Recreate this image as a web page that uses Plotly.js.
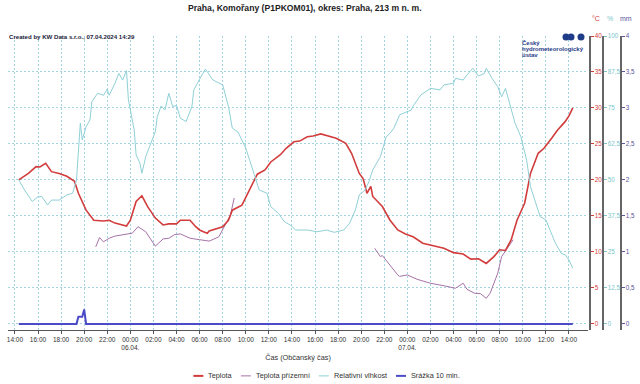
<!DOCTYPE html>
<html>
<head>
<meta charset="utf-8">
<script src="https://cdn.plot.ly/plotly-3.0.1.min.js"></script>
<style>html,body{margin:0;padding:0;background:#fff;}#chart{width:640px;height:384px;}</style>
</head>
<body>
<div id="chart"></div>
<script>
// ---- Data ----
const tempTimes = [
 '2024-04-05 14:20','2024-04-05 15:10','2024-04-05 15:50','2024-04-05 16:10','2024-04-05 16:40','2024-04-05 17:10',
 '2024-04-05 17:50','2024-04-05 18:30','2024-04-05 19:10','2024-04-05 19:30','2024-04-05 20:10','2024-04-05 20:50',
 '2024-04-05 21:40','2024-04-05 22:10','2024-04-05 22:40','2024-04-05 23:40',
 '2024-04-06 00:00','2024-04-06 00:30','2024-04-06 01:00','2024-04-06 01:30','2024-04-06 02:10','2024-04-06 02:50',
 '2024-04-06 03:20','2024-04-06 04:00','2024-04-06 04:20','2024-04-06 05:10','2024-04-06 05:40','2024-04-06 06:00',
 '2024-04-06 06:20','2024-04-06 06:40','2024-04-06 06:50','2024-04-06 07:10','2024-04-06 08:00','2024-04-06 08:30',
 '2024-04-06 08:50','2024-04-06 09:40','2024-04-06 10:20','2024-04-06 11:00','2024-04-06 11:40','2024-04-06 12:10',
 '2024-04-06 13:00','2024-04-06 13:30','2024-04-06 14:10','2024-04-06 14:40','2024-04-06 15:20','2024-04-06 15:50',
 '2024-04-06 16:30','2024-04-06 17:20','2024-04-06 17:50','2024-04-06 18:40','2024-04-06 19:10','2024-04-06 19:50',
 '2024-04-06 20:10','2024-04-06 20:30','2024-04-06 20:50','2024-04-06 21:00','2024-04-06 21:50','2024-04-06 22:30',
 '2024-04-06 23:10','2024-04-06 23:50',
 '2024-04-07 00:30','2024-04-07 01:20','2024-04-07 02:20','2024-04-07 03:10','2024-04-07 04:00','2024-04-07 04:50',
 '2024-04-07 05:30','2024-04-07 06:10','2024-04-07 06:50','2024-04-07 07:30','2024-04-07 08:00','2024-04-07 08:30',
 '2024-04-07 09:00','2024-04-07 09:30','2024-04-07 10:10','2024-04-07 10:40','2024-04-07 11:20','2024-04-07 11:50',
 '2024-04-07 12:30','2024-04-07 13:00','2024-04-07 13:40','2024-04-07 14:00','2024-04-07 14:20'
];
const tempValues = [
 20.0,20.9,21.85,21.8,22.3,21.15,
 20.9,20.5,19.8,18.15,15.8,14.4,
 14.3,14.4,14.0,13.6,
 14.4,17.0,17.8,16.3,14.7,13.75,
 13.9,13.9,14.4,14.4,13.5,13.05,
 12.8,12.6,12.9,13.05,13.5,14.4,
 15.8,16.5,18.6,20.8,21.4,22.5,
 23.5,24.4,25.3,25.4,26.0,26.1,
 26.4,26.0,25.8,25.1,23.7,20.9,
 20.2,18.15,19.1,17.7,16.3,14.4,
 13.05,12.5,
 12.1,11.2,10.8,10.5,9.9,9.7,
 9.0,9.05,8.4,9.35,10.3,10.2,
 11.7,14.4,16.8,20.9,23.7,24.4,
 25.8,26.9,28.1,28.9,30.0
];

const groundTimes = [
 '2024-04-05 21:00','2024-04-05 21:20','2024-04-05 21:40','2024-04-05 22:10','2024-04-05 22:40','2024-04-05 23:30',
 '2024-04-06 00:10','2024-04-06 00:40','2024-04-06 01:20','2024-04-06 02:10','2024-04-06 02:50','2024-04-06 03:20',
 '2024-04-06 03:50','2024-04-06 04:20','2024-04-06 05:10','2024-04-06 06:00','2024-04-06 06:50','2024-04-06 07:40',
 '2024-04-06 08:10','2024-04-06 08:40','2024-04-06 09:00','2024-04-06 15:00',
 '2024-04-06 21:10','2024-04-06 21:40','2024-04-06 21:50','2024-04-06 22:30','2024-04-06 23:10','2024-04-06 23:20',
 '2024-04-07 00:00','2024-04-07 00:50','2024-04-07 02:00','2024-04-07 03:10','2024-04-07 04:10','2024-04-07 04:50',
 '2024-04-07 05:10','2024-04-07 05:50','2024-04-07 06:20','2024-04-07 06:50','2024-04-07 07:10','2024-04-07 07:50',
 '2024-04-07 08:10','2024-04-07 08:40','2024-04-07 09:10'
];
const groundValues = [
 10.7,12.0,11.4,11.9,12.2,12.4,
 12.6,13.5,12.8,10.8,11.8,11.9,
 12.4,12.5,11.9,11.7,11.5,12.1,
 13.5,15.1,17.5,null,
 10.5,9.35,9.5,8.1,6.8,6.6,
 6.8,6.2,5.65,5.3,4.95,5.65,
 4.8,4.25,4.2,3.55,4.25,7.05,
 9.35,10.5,11.7
];

const humTimes = [
 '2024-04-05 14:20','2024-04-05 14:50','2024-04-05 15:30','2024-04-05 16:00','2024-04-05 16:20','2024-04-05 16:50',
 '2024-04-05 17:10','2024-04-05 17:50','2024-04-05 18:30','2024-04-05 19:00','2024-04-05 19:20','2024-04-05 19:30',
 '2024-04-05 19:40','2024-04-05 19:50','2024-04-05 20:10','2024-04-05 20:30','2024-04-05 20:40','2024-04-05 21:10',
 '2024-04-05 21:40','2024-04-05 22:00','2024-04-05 22:10','2024-04-05 22:40','2024-04-05 23:00','2024-04-05 23:20',
 '2024-04-05 23:40','2024-04-05 23:50',
 '2024-04-06 00:20','2024-04-06 00:30','2024-04-06 00:50','2024-04-06 01:00','2024-04-06 01:20','2024-04-06 01:40',
 '2024-04-06 02:10','2024-04-06 02:20','2024-04-06 02:40','2024-04-06 03:00','2024-04-06 03:20','2024-04-06 03:40',
 '2024-04-06 04:00','2024-04-06 04:20','2024-04-06 04:50','2024-04-06 05:20','2024-04-06 05:30','2024-04-06 06:00',
 '2024-04-06 06:30','2024-04-06 07:10','2024-04-06 07:40','2024-04-06 08:00','2024-04-06 08:30','2024-04-06 08:50',
 '2024-04-06 09:20','2024-04-06 09:40','2024-04-06 10:00','2024-04-06 10:20','2024-04-06 10:50','2024-04-06 11:10',
 '2024-04-06 11:50','2024-04-06 12:10','2024-04-06 12:50','2024-04-06 13:20','2024-04-06 13:50','2024-04-06 14:20',
 '2024-04-06 15:20','2024-04-06 16:10','2024-04-06 17:00','2024-04-06 17:40','2024-04-06 18:30','2024-04-06 19:00',
 '2024-04-06 19:30','2024-04-06 19:50','2024-04-06 20:20','2024-04-06 20:40','2024-04-06 21:00','2024-04-06 21:40',
 '2024-04-06 22:10','2024-04-06 22:30','2024-04-06 22:50','2024-04-06 23:10','2024-04-06 23:20','2024-04-06 23:40',
 '2024-04-07 00:20','2024-04-07 00:30','2024-04-07 01:10','2024-04-07 02:00','2024-04-07 02:50','2024-04-07 03:10',
 '2024-04-07 04:00','2024-04-07 04:10','2024-04-07 04:50','2024-04-07 05:10','2024-04-07 05:40','2024-04-07 06:10',
 '2024-04-07 06:40','2024-04-07 06:50','2024-04-07 07:20','2024-04-07 07:50','2024-04-07 08:10','2024-04-07 08:30',
 '2024-04-07 09:00','2024-04-07 09:20','2024-04-07 09:50','2024-04-07 10:20','2024-04-07 10:40','2024-04-07 11:10',
 '2024-04-07 11:30','2024-04-07 12:00','2024-04-07 12:30','2024-04-07 12:50','2024-04-07 13:20','2024-04-07 13:40',
 '2024-04-07 14:00','2024-04-07 14:20'
];
const humValues = [
 50,46.5,42.5,44.2,44.2,41.3,
 43,43,44.8,45.4,50,59.3,
 69.7,63.9,68.5,70.8,77.2,80.1,
 79.4,81.5,79.4,83.6,87,84.7,
 88,77.8,
 67.4,58.7,55.8,52.3,58.1,61.6,
 66.8,72,75.7,74.3,80.1,75.5,
 75.9,71.4,70.3,75.5,81.3,85,
 88.5,84.7,83.6,83,75.5,68,
 66.6,63.9,61,56.9,51.1,46.5,
 45.4,40.7,38.4,35.5,34.4,32.6,
 32.6,32,32.6,31.8,32.6,35,
 39.6,44.8,46.5,49.4,53.5,58.1,
 65,66.2,68,70.8,72.6,73.2,
 74.3,75.7,79.5,81.8,81.3,83,
 83.6,85.3,84.7,86.5,88.8,86.1,
 87,88.8,85.3,82.4,78.9,81.8,
 74.9,69.7,65,56.9,47.7,41.9,
 37.3,36.1,31.5,28,24.5,24,
 22.2,19.3
];

const rainTimes = ['2024-04-05 14:20','2024-04-05 19:20','2024-04-05 19:30','2024-04-05 19:50','2024-04-05 20:00','2024-04-05 20:10','2024-04-07 14:20'];
const rainValues = [0,0,0.1,0.1,0.2,0,0];

const tickVals = [
 '2024-04-05 14:00','2024-04-05 16:00','2024-04-05 18:00','2024-04-05 20:00','2024-04-05 22:00',
 '2024-04-06 00:00','2024-04-06 02:00','2024-04-06 04:00','2024-04-06 06:00','2024-04-06 08:00','2024-04-06 10:00',
 '2024-04-06 12:00','2024-04-06 14:00','2024-04-06 16:00','2024-04-06 18:00','2024-04-06 20:00','2024-04-06 22:00',
 '2024-04-07 00:00','2024-04-07 02:00','2024-04-07 04:00','2024-04-07 06:00','2024-04-07 08:00','2024-04-07 10:00',
 '2024-04-07 12:00','2024-04-07 14:00'
];
const tickText = [
 '14:00','16:00','18:00','20:00','22:00',
 '00:00<br>06.04.','02:00','04:00','06:00','08:00','10:00',
 '12:00','14:00','16:00','18:00','20:00','22:00',
 '00:00<br>07.04.','02:00','04:00','06:00','08:00','10:00',
 '12:00','14:00'
];

const seriesNames = ['Teplota','Teplota přízemní','Relativní vlhkost','Srážka 10 min.'];
const chartTitle = 'Praha, Komořany (P1PKOM01), okres: Praha, 213 m n. m.';
const creditText = 'Created by KW Data s.r.o., 07.04.2024 14:29';
const xTitle = 'Čas (Občanský čas)';
const logoLines = ['Český','hydrometeorologický','ústav'];

// ---- Styles ----
const FONT = '"Liberation Sans", Arial, Helvetica, sans-serif';
const C_TEMP = '#d23c3c', C_GROUND = '#a673a8', C_HUM = '#8fd0d6', C_RAIN = '#4b4bc8';
const C_HUM_AX = '#7cc6cc', C_RAIN_AX = '#5a55a0';
const GRID = '#a3d5e1';
const W = 640, H = 384, ML = 8, MR = 10, MT = 36, MB = 53.9;
const PW = W - ML - MR, PH = H - MT - MB;
const px = v => (v - ML) / PW;           // pixel x -> paper
const py = v => (H - MB - v) / PH;       // pixel y -> paper

const seriesColors = [C_TEMP, C_GROUND, C_HUM, C_RAIN];
const seriesWidths = [2, 1, 1, 2];

const traces = [
 {x: humTimes, y: humValues, name: seriesNames[2], yaxis: 'y2', type: 'scatter', mode: 'lines',
  line: {color: C_HUM, width: 1}},
 {x: groundTimes, y: groundValues, name: seriesNames[1], yaxis: 'y', type: 'scatter', mode: 'lines',
  line: {color: C_GROUND, width: 1}, connectgaps: false},
 {x: tempTimes, y: tempValues, name: seriesNames[0], yaxis: 'y', type: 'scatter', mode: 'lines',
  line: {color: C_TEMP, width: 1.6}},
 {x: rainTimes, y: rainValues, name: seriesNames[3], yaxis: 'y3', type: 'scatter', mode: 'lines',
  line: {color: C_RAIN, width: 2}}
];

// legend drawn as annotations + swatches (compact, like the original)
const LEG_FONT_SIZE = 7.3;
const ctx = document.createElement('canvas').getContext('2d');
ctx.font = LEG_FONT_SIZE + 'px "Liberation Sans", Arial, sans-serif';
const legendAnn = [], legendShapes = [];
{
  const SW = 10, G1 = 4, G2 = 10, Y = 376;
  const widths = seriesNames.map(n => ctx.measureText(n).width);
  const total = widths.reduce((a, b) => a + b, 0) + seriesNames.length * (SW + G1) + (seriesNames.length - 1) * G2;
  let cx = 326 - total / 2;
  seriesNames.forEach((n, i) => {
    legendShapes.push({type: 'line', xref: 'paper', yref: 'paper', x0: px(cx), x1: px(cx + SW), y0: py(Y), y1: py(Y),
      line: {color: seriesColors[i], width: seriesWidths[i]}});
    cx += SW + G1;
    legendAnn.push({text: n, xref: 'paper', yref: 'paper', x: px(cx), y: py(Y), xanchor: 'left', yanchor: 'middle',
      showarrow: false, borderpad: 0, font: {family: FONT, size: LEG_FONT_SIZE, color: '#333'}});
    cx += widths[i] + G2;
  });
}

const yCommon = {side: 'right', anchor: 'free', showline: true, linecolor: '#666', linewidth: 1.5,
  ticks: 'outside', ticklen: 3, zeroline: false, fixedrange: true, automargin: false};

const layout = {
 width: W, height: H,
 margin: {l: ML, r: MR, t: MT, b: MB, pad: 0},
 paper_bgcolor: '#fff', plot_bgcolor: '#fff',
 separators: ', ',
 font: {family: FONT, color: '#333', size: 7},
 showlegend: false,
 xaxis: {type: 'date', domain: [0, px(588)], range: ['2024-04-05 13:24', '2024-04-07 15:39'], automargin: false,
   showgrid: true, gridcolor: GRID, griddash: '2px,2px', gridwidth: 1,
   showline: true, linecolor: '#555', linewidth: 1, ticks: 'outside', ticklen: 3, tickcolor: '#555',
   tickmode: 'array', tickvals: tickVals, ticktext: tickText,
   tickfont: {family: FONT, size: 6.5, color: '#333'}, zeroline: false,
   title: {text: xTitle, font: {family: FONT, size: 7.3, color: '#333'}, standoff: 4}},
 yaxis: Object.assign({}, yCommon, {range: [-0.85, 40], position: px(589), tick0: 0, dtick: 5,
   showgrid: true, gridcolor: GRID, griddash: '2px,2px', gridwidth: 1,
   tickcolor: C_TEMP, tickfont: {family: FONT, size: 6.3, color: C_TEMP}}),
 yaxis2: Object.assign({}, yCommon, {overlaying: 'y', range: [-2.125, 100], position: px(602), tick0: 0, dtick: 12.5,
   showgrid: false, tickcolor: C_HUM_AX, tickfont: {family: FONT, size: 6.3, color: C_HUM_AX}}),
 yaxis3: Object.assign({}, yCommon, {overlaying: 'y', range: [-0.085, 4], position: px(620), tick0: 0, dtick: 0.5,
   showgrid: false, tickcolor: C_RAIN_AX, tickfont: {family: FONT, size: 6.3, color: C_RAIN_AX}}),
 annotations: [
   {text: '<b>' + chartTitle + '</b>', xref: 'paper', yref: 'paper', x: px(305), y: py(8), xanchor: 'center', yanchor: 'middle',
    showarrow: false, font: {family: FONT, size: 8.6, color: '#222'}},
   {text: '<b>' + creditText + '</b>', xref: 'paper', yref: 'paper', x: 0, y: py(36), xanchor: 'left', yanchor: 'middle',
    showarrow: false, borderpad: 0, font: {family: FONT, size: 6.1, color: '#1b1b3a'}},
   {text: '°C', xref: 'paper', yref: 'paper', x: px(596), y: py(18), xanchor: 'center', yanchor: 'middle',
    showarrow: false, font: {family: FONT, size: 7, color: C_TEMP}},
   {text: '%', xref: 'paper', yref: 'paper', x: px(610), y: py(18), xanchor: 'center', yanchor: 'middle',
    showarrow: false, font: {family: FONT, size: 7, color: C_HUM_AX}},
   {text: 'mm', xref: 'paper', yref: 'paper', x: px(626), y: py(18), xanchor: 'center', yanchor: 'middle',
    showarrow: false, font: {family: FONT, size: 7, color: C_RAIN_AX}}
 ].concat(logoLines.map((t, i) => ({
    text: '<b>' + t + '</b>', xref: 'paper', yref: 'paper', x: px(521), y: py(43 + i * 6.2), xanchor: 'left', yanchor: 'middle',
    showarrow: false, borderpad: 0, font: {family: FONT, size: 6, color: '#1f3c88'}}))).concat(legendAnn),
 shapes: [566, 571, 581].map(cx => ({type: 'circle', xref: 'paper', yref: 'paper', xsizemode: 'pixel', ysizemode: 'pixel',
    xanchor: px(cx), yanchor: py(37), x0: -3.5, x1: 3.5, y0: -3.5, y1: 3.5,
    fillcolor: '#1f3c88', line: {width: 0}})).concat(legendShapes)
};

Plotly.newPlot('chart', traces, layout, {staticPlot: true, displayModeBar: false});
</script>
</body>
</html>
